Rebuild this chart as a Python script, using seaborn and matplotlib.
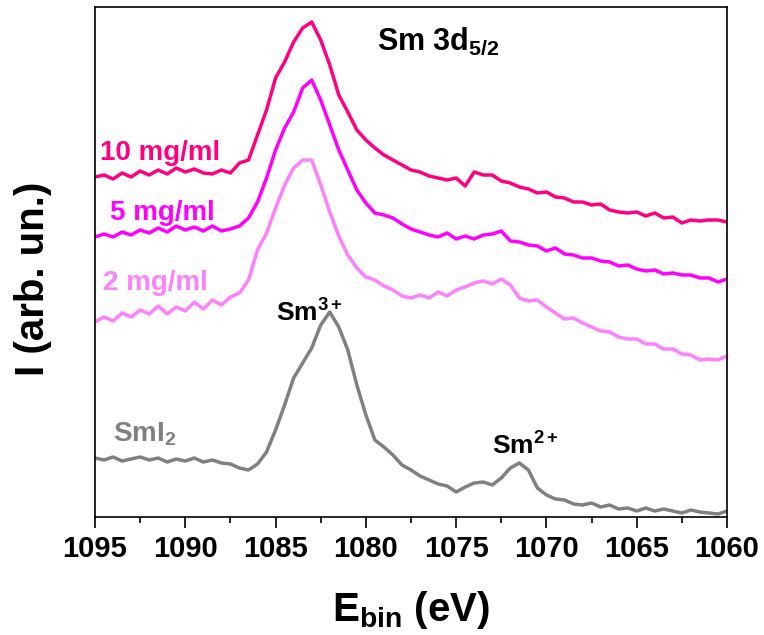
import numpy as np
import pandas as pd
import matplotlib
matplotlib.use("Agg")
import matplotlib.pyplot as plt
import seaborn as sns
from matplotlib.ticker import MultipleLocator

# Binding-energy grid (eV), high to low as recorded
energy = np.linspace(1095, 1060, 71)

# Sm 3d5/2 XPS intensities (arb. units, curves already vertically offset)
smi2 = [59, 57, 60, 56, 58, 60, 57, 59, 55, 58, 56, 59, 55, 57, 54, 53,
        49, 47, 53, 65, 87, 112, 139, 154, 169, 192, 205, 190, 167, 132, 102,
        77, 70, 62, 52, 47, 41, 37, 33, 31, 25, 30, 34, 35, 32, 39, 49,
        54, 47, 29, 22, 18, 17, 13, 12, 14, 10, 12, 8, 9, 6, 9, 6,
        8, 6, 4, 7, 5, 4, 3, 6]

c2 = [195, 200, 196, 204, 200, 207, 203, 211, 203, 210, 206, 215, 208, 217, 212, 220,
      224, 237, 267, 284, 309, 332, 349, 357, 357, 332, 305, 281, 262, 249, 240,
      237, 231, 227, 221, 219, 222, 219, 225, 221, 227, 230, 234, 236, 233, 238, 232,
      219, 216, 217, 210, 204, 198, 199, 194, 190, 186, 185, 180, 178, 178, 173, 173,
      168, 168, 163, 162, 157, 158, 157, 161]

c5 = [280, 283, 280, 285, 282, 287, 284, 289, 285, 291, 287, 290, 286, 291, 286, 288,
      291, 299, 315, 339, 367, 389, 405, 429, 437, 417, 392, 367, 347, 327, 314,
      304, 302, 299, 293, 288, 285, 282, 280, 284, 278, 281, 278, 282, 283, 286, 276,
      275, 272, 271, 266, 269, 263, 262, 259, 259, 256, 255, 251, 252, 248, 246, 247,
      243, 244, 242, 242, 239, 239, 235, 238]

c10 = [340, 342, 338, 344, 340, 346, 342, 347, 343, 349, 345, 348, 344, 343, 347, 344,
       354, 357, 382, 407, 439, 455, 475, 489, 495, 477, 452, 422, 405, 387, 377,
       369, 362, 357, 352, 347, 345, 341, 339, 337, 339, 331, 345, 342, 342, 336, 334,
       330, 328, 324, 325, 320, 319, 315, 315, 312, 313, 307, 305, 304, 305, 301, 304,
       299, 300, 294, 297, 296, 297, 297, 295]

series_names = ["SmI$_2$", "2 mg/ml", "5 mg/ml", "10 mg/ml"]
series_values = [smi2, c2, c5, c10]
series_colors = ["#808080", "#FF80FF", "#FF00FF", "#FF0080"]

df = pd.concat(
    [pd.DataFrame({"E": energy, "I": vals, "sample": name})
     for name, vals in zip(series_names, series_values)],
    ignore_index=True,
)

sns.set_theme(style="ticks")
plt.rcParams["font.family"] = ["Liberation Sans", "DejaVu Sans"]
plt.rcParams["font.weight"] = "bold"
plt.rcParams["text.color"] = "black"
plt.rcParams["axes.labelcolor"] = "black"
plt.rcParams["xtick.color"] = "black"
plt.rcParams["mathtext.fontset"] = "custom"
plt.rcParams["mathtext.rm"] = "Liberation Sans:bold"
plt.rcParams["mathtext.it"] = "Liberation Sans:bold"
plt.rcParams["mathtext.bf"] = "Liberation Sans:bold"
plt.rcParams["mathtext.default"] = "rm"

fig = plt.figure(figsize=(7.64, 6.35), dpi=100)
ax = fig.add_axes([95 / 764, 1 - 517 / 635, 632 / 764, 510 / 635])

sns.lineplot(data=df, x="E", y="I", hue="sample", hue_order=series_names,
             palette=series_colors, sort=False, linewidth=2.5, legend=False, ax=ax)

ax.set_xlim(1095, 1060)
ax.set_ylim(0, 510)
ax.xaxis.set_major_locator(MultipleLocator(5))
ax.xaxis.set_minor_locator(MultipleLocator(2.5))
ax.tick_params(axis="x", which="major", direction="out", length=8, width=1.2,
               labelsize=21, pad=5, color="black", labelcolor="black")
ax.tick_params(axis="x", which="minor", direction="out", length=4, width=1.2, color="black")
ax.set_yticks([])
for lbl in ax.get_xticklabels():
    lbl.set_fontweight("bold")
for sp in ax.spines.values():
    sp.set_visible(True)
    sp.set_linewidth(1.2)
    sp.set_color("black")

ax.set_xlabel("E$_{\\mathrm{bin}}$ (eV)", fontsize=29, fontweight="bold",
              labelpad=19, color="black")
ax.set_ylabel("I (arb. un.)", fontsize=29, fontweight="bold", color="black")
ax.yaxis.set_label_coords(-0.068, 0.467)

# Curve labels
label_pos = {"10 mg/ml": (1094.72, 357), "5 mg/ml": (1094.17, 297),
             "2 mg/ml": (1094.56, 227), "SmI$_2$": (1094.0, 75)}
for name, col in zip(series_names, series_colors):
    x, y = label_pos[name]
    ax.text(x, y, name, color=col, fontsize=20, fontweight="bold",
            ha="left", va="baseline")

ax.text(1079.4, 467, "Sm 3d$_{5/2}$", fontsize=22, fontweight="bold",
        ha="left", va="baseline", color="black")
ax.text(1085.0, 195, "Sm$^{3+}$", fontsize=19, fontweight="bold",
        ha="left", va="baseline", color="black")
ax.text(1073.0, 62, "Sm$^{2+}$", fontsize=19, fontweight="bold",
        ha="left", va="baseline", color="black")

fig.savefig("out.png", dpi=100)
